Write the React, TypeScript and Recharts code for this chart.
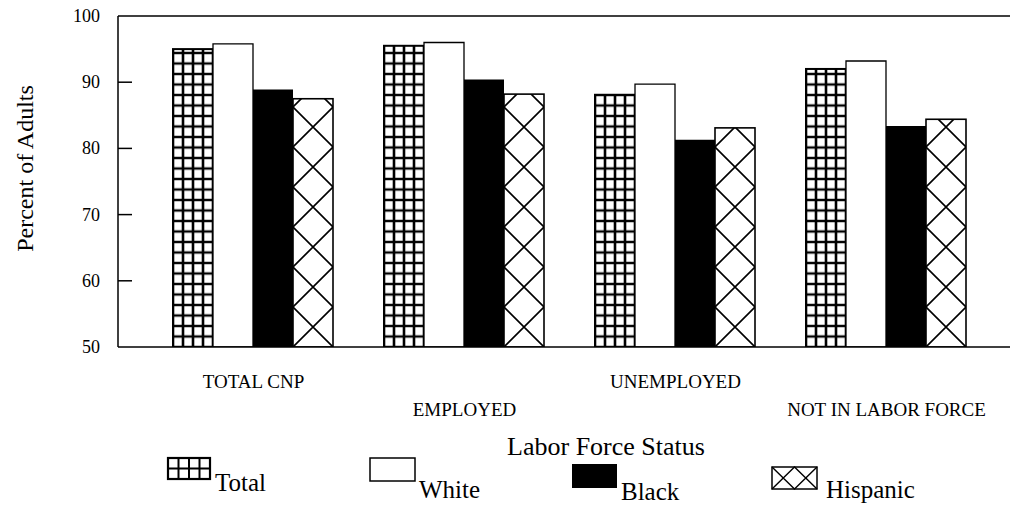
import { Bar, BarChart, Label, Legend, ReferenceLine, XAxis, YAxis } from 'recharts';

const categories = ['TOTAL CNP', 'EMPLOYED', 'UNEMPLOYED', 'NOT IN LABOR FORCE'];
const totalValues = [95.0, 95.5, 88.1, 92.0];
const whiteValues = [95.8, 96.0, 89.7, 93.2];
const blackValues = [88.9, 90.4, 81.3, 83.4];
const hispanicValues = [87.5, 88.2, 83.1, 84.4];
const yTicks = [50, 60, 70, 80, 90, 100];
const seriesNames = ['Total', 'White', 'Black', 'Hispanic'];

const data = categories.map((status, i) => ({
  status,
  total: totalValues[i],
  white: whiteValues[i],
  black: blackValues[i],
  hispanic: hispanicValues[i],
}));

const FONT = '"Liberation Serif", "Times New Roman", serif';

// grid-hatched bar, pattern anchored on the bar's own bottom-left corner
function GridBar(props: any) {
  const { x, y, width, height, index } = props;
  if (!height || height <= 0) return null;
  const id = `grid-${index}`;
  const cw = width / 4;
  const ch = 10.5;
  return (
    <g>
      <defs>
        <pattern id={id} patternUnits="userSpaceOnUse" x={x} y={y + height} width={cw} height={ch}>
          <rect width={cw} height={ch} fill="#fff" />
          <path d={`M0 0V${ch}M${cw} 0V${ch}M0 0H${cw}M0 ${ch}H${cw}`} stroke="#000" strokeWidth={2.6} />
        </pattern>
      </defs>
      <rect x={x} y={y} width={width} height={height} fill={`url(#${id})`} stroke="#000" strokeWidth={2} />
    </g>
  );
}

function CrossBar(props: any) {
  const { x, y, width, height, index } = props;
  if (!height || height <= 0) return null;
  const id = `cross-${index}`;
  const s = width;
  return (
    <g>
      <defs>
        <pattern id={id} patternUnits="userSpaceOnUse" x={x} y={y + height} width={s} height={s}>
          <rect width={s} height={s} fill="#fff" />
          <path d={`M0 0L${s} ${s}M${s} 0L0 ${s}`} stroke="#000" strokeWidth={1.6} />
        </pattern>
      </defs>
      <rect x={x} y={y} width={width} height={height} fill={`url(#${id})`} stroke="#000" strokeWidth={1.6} />
    </g>
  );
}

function YTick({ x, y, payload }: any) {
  const v = payload.value;
  return (
    <g>
      <text x={x} y={y} dy={6} textAnchor="end" fontFamily={FONT} fontSize={18} fill="#000">
        {v}
      </text>
      {v > 50 && v < 100 && <line x1={x + 18} x2={x + 32} y1={y} y2={y} stroke="#000" strokeWidth={1.5} />}
    </g>
  );
}

function XTick({ x, y, payload, index }: any) {
  return (
    <text x={x} y={y + (index % 2 ? 69 : 41)} textAnchor="middle" fontFamily={FONT} fontSize={19} fill="#000">
      {payload.value}
    </text>
  );
}

const legendSpots: Record<string, { ix: number; iy: number; iw: number; ih: number; tx: number; ty: number }> = {
  Total: { ix: 168, iy: 2, iw: 42, ih: 21, tx: 215, ty: 35 },
  White: { ix: 370, iy: 2, iw: 45, ih: 23, tx: 419, ty: 42 },
  Black: { ix: 572, iy: 8, iw: 45, ih: 24, tx: 621, ty: 44 },
  Hispanic: { ix: 772, iy: 11, iw: 45, ih: 22, tx: 826, ty: 42 },
};

function LegendIcon({ name, x, y, w, h }: { name: string; x: number; y: number; w: number; h: number }) {
  if (name === 'Total') {
    const cw = w / 4;
    const lines = [];
    for (let i = 1; i < 4; i++) lines.push(<line key={`v${i}`} x1={x + i * cw} x2={x + i * cw} y1={y} y2={y + h} stroke="#000" strokeWidth={2} />);
    lines.push(<line key="h" x1={x} x2={x + w} y1={y + h / 2} y2={y + h / 2} stroke="#000" strokeWidth={2} />);
    return (
      <g>
        <rect x={x} y={y} width={w} height={h} fill="#fff" stroke="#000" strokeWidth={2.2} />
        {lines}
      </g>
    );
  }
  if (name === 'White') return <rect x={x} y={y} width={w} height={h} fill="#fff" stroke="#000" strokeWidth={1.5} />;
  if (name === 'Black') return <rect x={x} y={y} width={w} height={h} fill="#000" />;
  const m = w / 2;
  return (
    <g>
      <rect x={x} y={y} width={w} height={h} fill="#fff" stroke="#000" strokeWidth={1.5} />
      <path d={`M${x} ${y}L${x + m} ${y + h}L${x + w} ${y}M${x} ${y + h}L${x + m} ${y}L${x + w} ${y + h}`} stroke="#000" strokeWidth={1.4} fill="none" />
    </g>
  );
}

function LegendContent() {
  return (
    <svg width={1010} height={50} style={{ display: 'block' }}>
      {seriesNames.map((name) => {
        const p = legendSpots[name];
        return (
          <g key={name}>
            <LegendIcon name={name} x={p.ix} y={p.iy} w={p.iw} h={p.ih} />
            <text x={p.tx} y={p.ty} fontFamily={FONT} fontSize={25} fill="#000">
              {name}
            </text>
          </g>
        );
      })}
    </svg>
  );
}

export default function App() {
  return (
    <div style={{ position: 'absolute', left: 0, top: 0, width: 1010, height: 506, background: '#fff' }}>
      <BarChart width={1010} height={506} data={data} margin={{ top: 16, right: 0, bottom: 0, left: 0 }} barCategoryGap={25} barGap={0}>
        <XAxis
          dataKey="status"
          height={109}
          padding={{ left: 30, right: 18 }}
          axisLine={{ stroke: '#000', strokeWidth: 1.5 }}
          tickLine={false}
          tickSize={0}
          tickMargin={0}
          interval={0}
          tick={<XTick />}
        >
          <Label
            content={({ viewBox }: any) => (
              <text x={viewBox.x + viewBox.width / 2 + 42} y={viewBox.y + 108} textAnchor="middle" fontFamily={FONT} fontSize={26} fill="#000">
                Labor Force Status
              </text>
            )}
          />
        </XAxis>
        <YAxis
          width={118}
          domain={[50, 100]}
          ticks={yTicks}
          allowDataOverflow
          axisLine={{ stroke: '#000', strokeWidth: 1.5 }}
          tickLine={false}
          tickSize={0}
          tickMargin={18}
          tick={<YTick />}
        >
          <Label
            content={({ viewBox }: any) => {
              const cy = viewBox.y + viewBox.height / 2 - 13;
              return (
                <text x={33} y={cy} transform={`rotate(-90 33 ${cy})`} textAnchor="middle" fontFamily={FONT} fontSize={24} fill="#000">
                  Percent of Adults
                </text>
              );
            }}
          />
        </YAxis>
        <ReferenceLine y={100} stroke="#000" strokeWidth={1.5} />
        <Legend verticalAlign="bottom" content={<LegendContent />} />
        <Bar dataKey="total" name={seriesNames[0]} shape={<GridBar />} isAnimationActive={false} />
        <Bar dataKey="white" name={seriesNames[1]} fill="#fff" stroke="#000" strokeWidth={1.3} isAnimationActive={false} />
        <Bar dataKey="black" name={seriesNames[2]} fill="#000" isAnimationActive={false} />
        <Bar dataKey="hispanic" name={seriesNames[3]} shape={<CrossBar />} isAnimationActive={false} />
      </BarChart>
    </div>
  );
}
